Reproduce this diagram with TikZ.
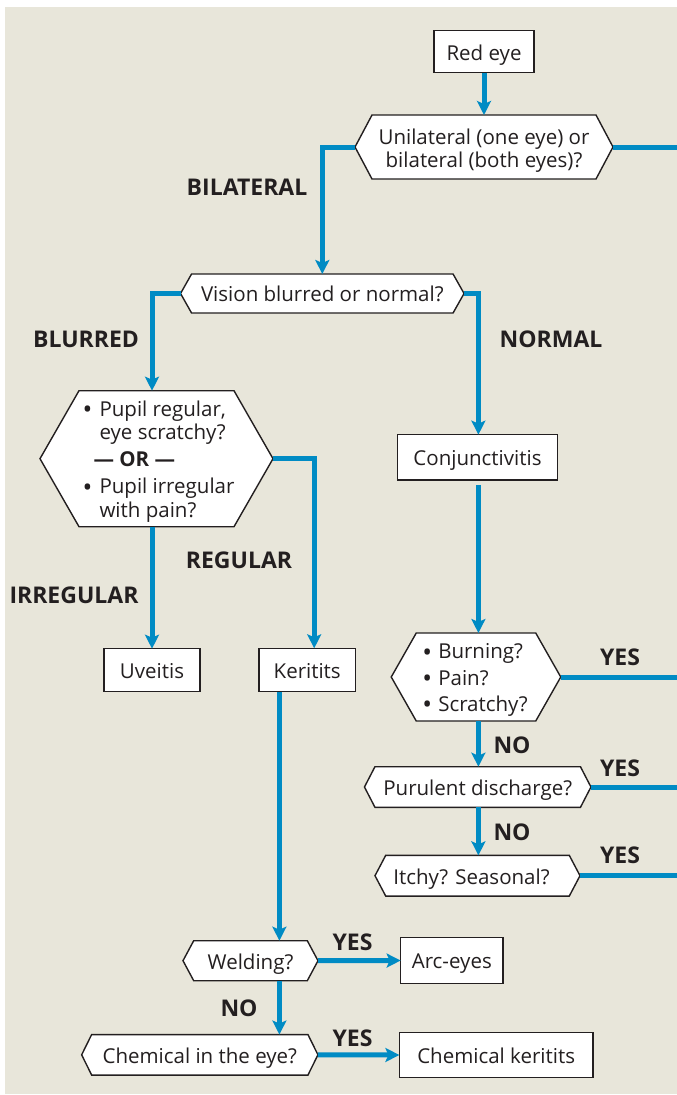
\documentclass[tikz,border=0pt]{standalone}
\usepackage{fontspec}
\setmainfont{Open Sans}
\usetikzlibrary{arrows.meta}
\definecolor{bgc}{RGB}{232,230,218}
\definecolor{flow}{RGB}{0,139,196}
\definecolor{ink}{RGB}{35,31,32}
\newcommand{\bul}[1]{\makebox[#1][l]{\hspace*{-2pt}\smash{\fontsize{26}{0}\selectfont\raisebox{-2.3pt}{\textbullet}}}}
\tikzset{
 one/.style={text height=16.6pt, text depth=0pt},
 multi/.style={yshift=-3.5pt},
 box/.style={draw=ink, line width=1.4pt, fill=white, inner sep=0pt, outer sep=0pt, text=ink, font=\fontsize{20.5}{23.5}\selectfont, one},
 hexbase/.style={inner sep=0pt, outer sep=0pt},
 hexline/.style={draw=ink, line width=1.4pt, fill=white, line join=miter},
 txt/.style={inner sep=0pt, align=center, text=ink, font=\fontsize{20.5}{23.5}\selectfont},
 lbl/.style={inner sep=0pt, text=ink, font=\bfseries\fontsize{23}{26}\selectfont},
 flowline/.style={draw=flow, line width=5pt},
 flowarrow/.style={flowline, -{Stealth[length=14pt,width=14pt,inset=3pt]}},
}
\newcommand{\hexnode}[8][one]{%
 \node[hexbase, minimum width=#5pt, minimum height=#6pt] (#2) at (#3,#4) {};
 \draw[hexline] (#2.west) -- ([xshift=#7pt]#2.north west) -- ([xshift=-#7pt]#2.north east) -- (#2.east) -- ([xshift=-#7pt]#2.south east) -- ([xshift=#7pt]#2.south west) -- cycle;
 \node[txt, #1] (#2-t) at (#2) {#8};
}
\begin{document}
\begin{tikzpicture}[x=1pt,y=-1pt]
\useasboundingbox (0,0) rectangle (677,1095);
\fill[bgc] (5,7) rectangle (677,1094);
\coordinate (R) at (677,0);
\coordinate (kx) at (279.4,0);
\coordinate (cx) at (478.4,0);

% boxes
\node[box, minimum width=100pt, minimum height=42pt] (red) at (484,51.7) {Red eye};
\node[box, minimum width=160pt, minimum height=45.3pt] (conj) at (477.5,457.3) {Conjunctivitis};
\node[box, minimum width=96pt, minimum height=43pt] (uve) at (152,670.2) {Uveitis};
\node[box, minimum width=96.4pt, minimum height=43.4pt] (ker) at (307.2,670) {Keritits};
\node[box, minimum width=102.3pt, minimum height=45.6pt] (arc) at (451.8,960.5) {Arc-eyes};
\node[box, minimum width=193.6pt, minimum height=45.4pt] (chk) at (496.2,1055) {Chemical keritits};

% hexagons
\hexnode[multi]{h1}{484}{147}{258}{64}{17}{Unilateral (one eye) or\\bilateral (both eyes)?}
\hexnode{h2}{322.3}{293.5}{283.5}{39}{11}{Vision blurred or normal?}
\hexnode[multi, xshift=3pt]{h3}{156.5}{458.7}{233}{136}{39}{\begin{tabular}{@{}l@{}}\bul{15pt}Pupil regular,\\ \hspace*{15pt}eye scratchy?\\[3.5pt] \hspace*{9pt}\textbf{— OR —}\\[3.5pt] \bul{15pt}Pupil irregular\\ \hspace*{15pt}with pain?\end{tabular}}
\hexnode[multi]{h4}{476}{677}{169.5}{88}{25}{\begin{tabular}{@{}l@{}}\bul{14pt}Burning?\\[2.8pt] \bul{14pt}Pain?\\[2.8pt] \bul{14pt}Scratchy?\end{tabular}}
\hexnode{h5}{477.7}{787}{226.5}{40.6}{10.5}{Purulent discharge?}
\hexnode[one, xshift=-6pt]{h6}{477.5}{875.7}{205}{40.7}{10.7}{Itchy? Seasonal?}
\hexnode{weld}{250.5}{960.7}{135}{40}{10.7}{Welding?}
\hexnode{chem}{199.8}{1054.8}{236.3}{40.5}{10}{Chemical in the eye?}

% connectors
\draw[flowarrow] (red.south) -- (h1.north);
\draw[flowarrow] (h1.west) -| (h2.north);
\draw[flowline] (h1.east) -- (h1.east -| R);
\draw[flowarrow] (h2.west) -| (h3.north -| uve.north);
\draw[flowarrow] (h2.east) -| (h2.east -| cx) -- (conj.north -| cx);
\draw[flowarrow] (h3.south -| uve.north) -- (uve.north);
\draw[flowarrow] (h3.east) -| ([xshift=7pt]ker.north);
\draw[flowarrow] ([yshift=-5pt]conj.south -| cx) -- (h4.north -| cx);
\draw[flowline] (h4.east) -- (h4.east -| R);
\draw[flowarrow] (h4.south -| cx) -- (h5.north -| cx);
\draw[flowline] (h5.east) -- (h5.east -| R);
\draw[flowarrow] (h5.south -| cx) -- (h6.north -| cx);
\draw[flowline] (h6.east) -- (h6.east -| R);
\draw[flowarrow] (ker.south -| kx) -- (weld.north -| kx);
\draw[flowarrow] (weld.east) -- (arc.west);
\draw[flowarrow] (weld.south -| kx) -- (chem.north -| kx);
\draw[flowarrow] (chem.east) -- (chk.west);

% labels
\node[lbl] (lb1) at (247,187) {BILATERAL};
\node[lbl] (lb2) at (86,339) {BLURRED};
\node[lbl] (lb3) at (551,339) {NORMAL};
\node[lbl] (lb4) at (74,595) {IRREGULAR};
\node[lbl] (lb5) at (239,560) {REGULAR};
\node[lbl] (lb6) at (620,657.5) {YES};
\node[lbl] (lb7) at (512,745) {NO};
\node[lbl] (lb8) at (620,768.7) {YES};
\node[lbl] (lb9) at (512,832.5) {NO};
\node[lbl] (lb10) at (620,855.7) {YES};
\node[lbl] (lb11) at (352.5,942.5) {YES};
\node[lbl] (lb12) at (239,1008.7) {NO};
\node[lbl] (lb13) at (352.5,1038.5) {YES};
\end{tikzpicture}
\end{document}
